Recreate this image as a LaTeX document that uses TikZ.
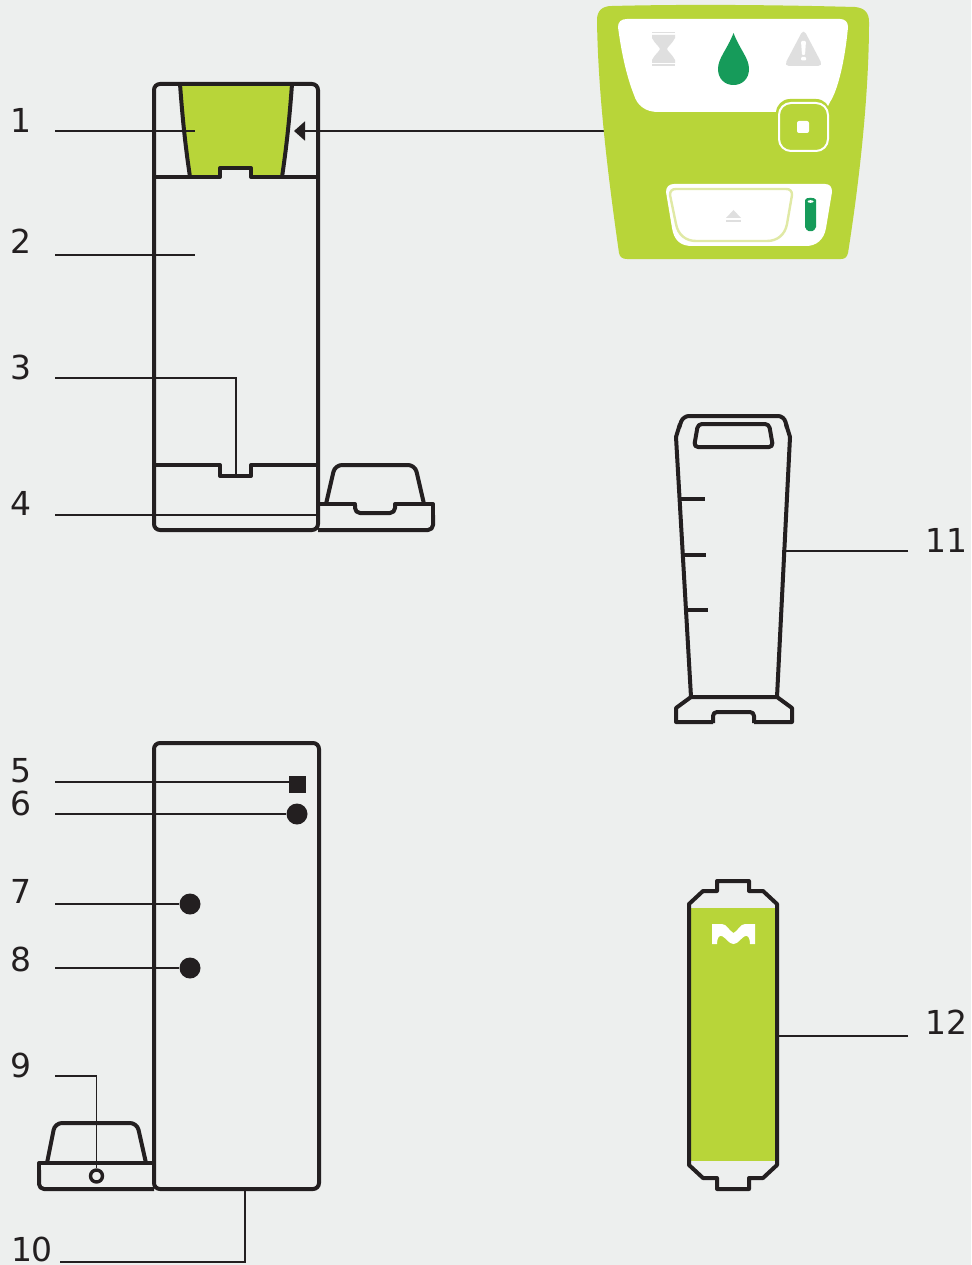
\documentclass[tikz,border=0pt]{standalone}
\usepackage{fontspec}
\setmainfont{DejaVu Sans}
\usetikzlibrary{arrows.meta}
\definecolor{paper}{HTML}{EDEFEE}
\definecolor{ink}{HTML}{231F20}
\definecolor{lime}{HTML}{B8D539}
\definecolor{leaf}{HTML}{169B5A}
\definecolor{pale}{HTML}{DFDFDF}
\definecolor{halo}{HTML}{E0E9A5}

\begin{document}
\begin{tikzpicture}[x=1pt,y=-1pt,
  outline/.style={draw=ink, line width=4pt, line join=round},
  leader/.style={draw=ink, line width=1.9pt},
  num/.style={text=ink, font=\fontsize{33}{33}\selectfont, inner sep=0pt},
  dot/.style={circle, fill=ink, minimum size=21pt, inner sep=0pt}]

  % page
  \fill[paper] (0,0) rectangle (971,1265);
  \useasboundingbox (0,0) rectangle (971,1265);

  % ---- front view of the unit ----
  \fill[lime] (180,84) .. controls (183,125) and (186,150) .. (190,177) -- (220,177) -- (220,168)
    -- (251,168) -- (251,177) -- (282,177) .. controls (286,150) and (289,125) .. (292,84) -- cycle;
  \draw[outline] (180,84) .. controls (183,125) and (186,150) .. (190,177);
  \draw[outline] (292,84) .. controls (289,125) and (286,150) .. (282,177);
  \draw[outline, rounded corners=6pt] (154,84) rectangle (318,530);
  \draw[outline] (154,177) -- (220,177) -- (220,168) -- (251,168) -- (251,177) -- (318,177);
  \draw[outline] (154,465) -- (220,465) -- (220,476) -- (251,476) -- (251,465) -- (318,465);

  % tray beside the unit
  \draw[outline] (318,504) -- (355,504) -- (355,508);
  \draw[outline] (395,508) -- (395,504) -- (433,504) -- (433,524);
  \draw[outline, rounded corners=5pt] (355,505) -- (355,513) -- (395,513) -- (395,505);
  \draw[outline, rounded corners=5pt] (433,515) -- (433,530) -- (318,530);
  \draw[outline, rounded corners=7pt] (326,504) -- (335,465) -- (415,465) -- (424,504);

  % leaders 1-4
  \node[num] (l1) at (21,120) {1};
  \coordinate (f1) at (55,131);  \coordinate (t1) at (195,131);
  \draw[leader] (f1) -- (t1);
  \node[num] (l2) at (21,241) {2};
  \coordinate (f2) at (55,255);  \coordinate (t2) at (195,255);
  \draw[leader] (f2) -- (t2);
  \node[num] (l3) at (21,367) {3};
  \coordinate (f3) at (55,378);  \coordinate (t3) at (236,475);
  \draw[leader] (f3) -| (t3);
  \node[num] (l4) at (21,503) {4};
  \coordinate (f4) at (55,515);  \coordinate (t4) at (320,515);
  \draw[leader] (f4) -- (t4);

  % arrow from the panel to the unit
  \coordinate (pfrom) at (610,131);  \coordinate (pto) at (294,131);
  \draw[leader, -{Triangle[length=11pt,width=19pt]}] (pfrom) -- (pto);

  % ---- control panel ----
  \fill[lime] (597,20) .. controls (597,10) and (603,6) .. (612,6)
    .. controls (690,4) and (780,5) .. (855,7) .. controls (864,8) and (869,12) .. (869,22)
    .. controls (869,100) and (858,190) .. (848,253) .. controls (847,257) and (845,259) .. (841,259)
    -- (627,259) .. controls (622,259) and (620,257) .. (619,253)
    .. controls (610,190) and (598,100) .. (597,20) -- cycle;
  % window with the three icons
  \fill[white] (618,27) .. controls (618,22) and (621,19) .. (627,19) -- (840,19)
    .. controls (845,19) and (848,22) .. (848,27) .. controls (845,60) and (838,90) .. (830,102)
    -- (825,112) -- (658,112) .. controls (645,112) and (637,105) .. (634,95)
    .. controls (626,75) and (621,50) .. (618,27) -- cycle;
  % stop button
  \fill[lime, rounded corners=14pt] (776,99) rectangle (830,153);
  \draw[white, line width=2pt, rounded corners=12pt] (779,103) rectangle (828,151);
  \fill[white, rounded corners=2pt] (797,121) rectangle (809,133);
  % hourglass
  \fill[pale] (652,32) rectangle (675,33.5);
  \fill[pale] (652,35) -- (675,35) -- (675,38) .. controls (672,44) and (668,46) .. (667,49)
    .. controls (668,52) and (672,54) .. (675,60) -- (675,63) -- (652,63) -- (652,60)
    .. controls (655,54) and (659,52) .. (660,49) .. controls (659,46) and (655,44) .. (652,38) -- cycle;
  \fill[pale] (652,64.5) rectangle (675,66);
  % drop
  \fill[leaf] (733.5,33) .. controls (727,50) and (718,58) .. (718,69)
    .. controls (718,79) and (725,85) .. (733.5,85) .. controls (742,85) and (749,79) .. (749,69)
    .. controls (749,58) and (740,50) .. (733.5,33) -- cycle;
  % warning sign
  \fill[pale, rounded corners=5pt] (803.5,29) -- (823,66) -- (784,66) -- cycle;
  \fill[white, rounded corners=1pt] (801,41) -- (806,41) -- (805,55) -- (802,55) -- cycle;
  \fill[white, rounded corners=1pt] (801,57) rectangle (806,60.5);
  % lower window with eject key and battery
  \fill[white] (666,192) .. controls (666,187) and (669,184) .. (674,184) -- (825,184)
    .. controls (830,184) and (832,187) .. (832,192) -- (826,228)
    .. controls (824,240) and (816,246) .. (806,246) -- (692,246)
    .. controls (680,246) and (674,240) .. (672,228) -- cycle;
  \draw[halo, line width=2.4pt] (670,195) .. controls (670,191) and (672,189) .. (676,189) -- (786,189)
    .. controls (790,189) and (792,191) .. (792,195) -- (787,224)
    .. controls (785,235) and (777,241) .. (767,241) -- (696,241)
    .. controls (686,241) and (678,235) .. (676,224) -- cycle;
  \fill[pale] (733.5,210) -- (741,218) -- (726,218) -- cycle;
  \fill[pale] (726,220) rectangle (741,222.5);
  \fill[leaf, rounded corners=2pt] (805,202) .. controls (805,197) and (816,197) .. (816,202) -- (816,229)
    -- (810.5,232) -- (805,229) -- cycle;
  \fill[white] (810.5,201.5) ellipse [x radius=3pt, y radius=1.3pt];

  % ---- measuring bottle ----
  \draw[outline] (691,697) -- (676,437) -- (680,424);
  \draw[outline] (777,697) -- (790,437) -- (786,424);
  \draw[outline, rounded corners=6pt] (679,428) -- (683,416) -- (784,416) -- (787,428);
  \draw[outline, rounded corners=4pt] (698,424) -- (769,424) -- (773,447) -- (694,447) -- cycle;
  \draw[outline] (679,499) -- (705,499);
  \draw[outline] (682,555) -- (706,555);
  \draw[outline] (684,610) -- (708,610);
  \draw[outline] (691,697) -- (777,697) -- (792,708) -- (792,722) -- (754,722);
  \draw[outline] (691,697) -- (676,708) -- (676,722) -- (713,722);
  \draw[outline, rounded corners=4pt] (713,723) -- (713,712) -- (754,712) -- (754,723);
  \node[num] (l11) at (946,540) {11};
  \coordinate (f11) at (908,551);  \coordinate (t11) at (782,551);
  \draw[leader] (f11) -- (t11);

  % ---- back view of the unit ----
  \draw[outline, rounded corners=6pt] (154,743) rectangle (319,1189);
  \draw[outline] (154,1163) -- (39,1163) -- (39,1180);
  \draw[outline, rounded corners=5pt] (39,1170) -- (39,1189) -- (154,1189);
  \draw[outline, rounded corners=7pt] (47,1163) -- (55,1123) -- (137,1123) -- (146,1163);
  \node[fill=ink, minimum size=17pt, inner sep=0pt] (m5) at (297.5,784.5) {};
  \node[dot] (m6) at (297,814) {};
  \node[dot] (m7) at (190,904) {};
  \node[dot] (m8) at (190,968) {};
  \node[circle, draw=ink, fill=paper, line width=3.4pt, minimum size=12pt, inner sep=0pt] (m9) at (96.5,1176) {};

  % leaders 5-10
  \node[num] (l5) at (21,771) {5};
  \coordinate (f5) at (55,782);  \coordinate (t5) at (290,782);
  \draw[leader] (f5) -- (t5);
  \node[num] (l6) at (21,803) {6};
  \coordinate (f6) at (55,814);
  \draw[leader] (f6) -- (m6);
  \node[num] (l7) at (21,891) {7};
  \coordinate (f7) at (55,904);
  \draw[leader] (f7) -- (m7);
  \node[num] (l8) at (21,959) {8};
  \coordinate (f8) at (55,968);
  \draw[leader] (f8) -- (m8);
  \node[num] (l9) at (21,1065) {9};
  \coordinate (f9) at (55,1076);
  \draw[leader] (f9) -| (m9.north);
  \node[num] (l10) at (32,1249) {10};
  \coordinate (f10) at (60,1262);  \coordinate (t10) at (245,1189);
  \draw[leader] (f10) -| (t10);

  % ---- cartridge ----
  \fill[lime] (689,908) rectangle (777,1161);
  \draw[outline] (717,891) -- (717,881) -- (749,881) -- (749,891) -- (763,891) -- (777,904)
    -- (777,1165) -- (763,1178) -- (749,1178) -- (749,1189) -- (717,1189) -- (717,1178) -- (703,1178)
    -- (689,1165) -- (689,904) -- (703,891) -- cycle;
  % logo
  \fill[white] (712,924) -- (722,924) .. controls (727,924) and (729,931) .. (733.5,933)
    .. controls (738,931) and (740,924) .. (745,924) -- (755,924) -- (755,944) -- (750,944)
    .. controls (750,938) and (748,935) .. (745,936) .. controls (741,938) and (738,944) .. (733.5,944)
    .. controls (729,944) and (726,938) .. (722,936) .. controls (719,935) and (717,938) .. (717,944)
    -- (712,944) -- cycle;
  \node[num] (l12) at (946,1022) {12};
  \coordinate (f12) at (908,1036);  \coordinate (t12) at (777,1036);
  \draw[leader] (f12) -- (t12);
\end{tikzpicture}
\end{document}
